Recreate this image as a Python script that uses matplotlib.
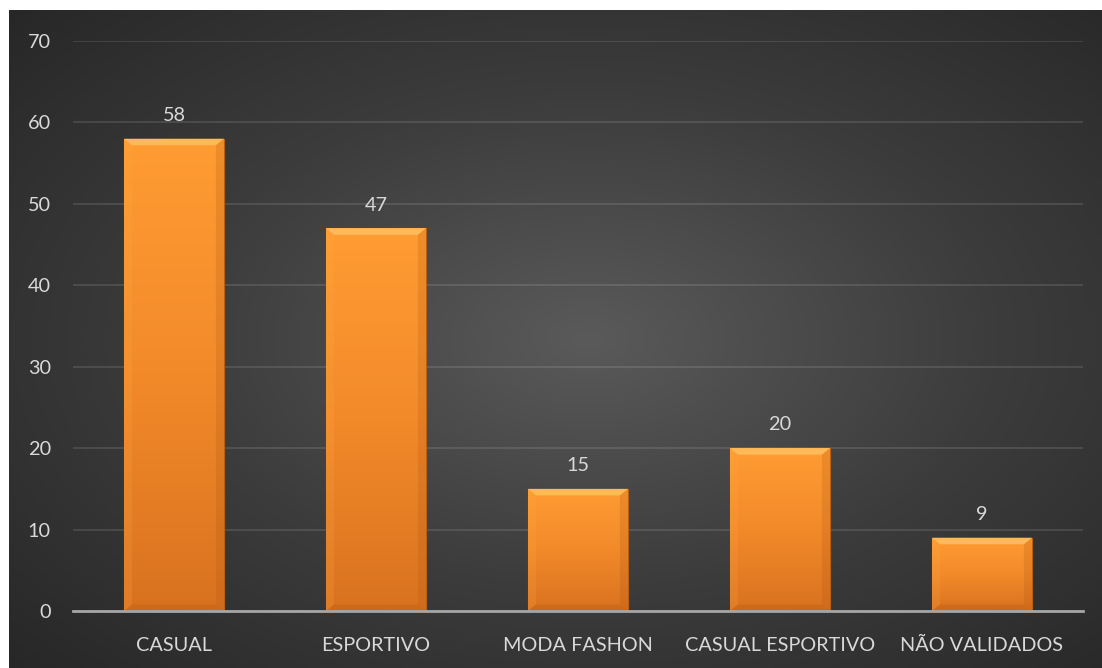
import numpy as np
import matplotlib.pyplot as plt
from matplotlib.colors import LinearSegmentedColormap
from matplotlib.patches import Polygon

# Dados
categorias = ['CASUAL', 'ESPORTIVO', 'MODA FASHON', 'CASUAL ESPORTIVO', 'NÃO VALIDADOS']
valores = [58, 47, 15, 20, 9]
yticks = [0, 10, 20, 30, 40, 50, 60, 70]

plt.rcParams['font.family'] = ['Lato', 'DejaVu Sans']
txt = '#d9d9d9'

fig = plt.figure(figsize=(11.02, 6.68), dpi=100)
fig.patch.set_facecolor('white')

# fundo com gradiente radial
bg = fig.add_axes([9 / 1102, 0, 1 - 9 / 1102, 1 - 10 / 668])
yy, xx = np.mgrid[0:1:300j, 0:1:500j]
r = np.sqrt(((xx - 0.53) / 0.75) ** 2 + ((yy - 0.5) / 0.75) ** 2)
bg_cmap = LinearSegmentedColormap.from_list('bg', ['#5a5a5a', '#3c3c3c', '#262626'])
bg.imshow(np.clip(r, 0, 1), cmap=bg_cmap, aspect='auto', extent=[0, 1, 0, 1], vmin=0, vmax=1)
bg.axis('off')

ax = fig.add_axes([73 / 1102, 1 - 611 / 668, 1010 / 1102, 570 / 668])
ax.patch.set_alpha(0)

x = np.arange(len(categorias))
bars = ax.bar(x, valores, width=0.495, color='#f28a28', edgecolor='#b85f10', linewidth=0.8, zorder=3)

bar_cmap = LinearSegmentedColormap.from_list('bar', ['#d9721f', '#f28a2a', '#ff9c32'])
grad = np.linspace(0, 1, 256).reshape(-1, 1)
for b, v in zip(bars, valores):
    x0 = b.get_x()
    w = b.get_width()
    im = ax.imshow(grad, cmap=bar_cmap, aspect='auto', origin='lower',
                   extent=[x0, x0 + w, 0, v], zorder=3.5)
    im.set_clip_path(b)
    # chanfro
    dx = 0.04
    dy = 0.8
    top = Polygon([[x0, v], [x0 + w, v], [x0 + w - dx, v - dy], [x0 + dx, v - dy]],
                  closed=True, facecolor='#ffc060', edgecolor='none', alpha=0.85, zorder=4)
    ax.add_patch(top)
    left = Polygon([[x0, v], [x0 + dx, v - dy], [x0 + dx, dy], [x0, 0]],
                   closed=True, facecolor='#ffae4a', edgecolor='none', alpha=0.18, zorder=4)
    ax.add_patch(left)
    right = Polygon([[x0 + w, v], [x0 + w - dx, v - dy], [x0 + w - dx, dy], [x0 + w, 0]],
                    closed=True, facecolor='#a85010', edgecolor='none', alpha=0.2, zorder=4)
    ax.add_patch(right)
    bot = Polygon([[x0, 0], [x0 + w, 0], [x0 + w - dx, dy], [x0 + dx, dy]],
                  closed=True, facecolor='#b05810', edgecolor='none', alpha=0.3, zorder=4)
    ax.add_patch(bot)
    ax.text(b.get_x() + w / 2, v + 1.8, str(v), ha='center', va='bottom',
            color=txt, fontsize=14.3)

ax.set_xlim(-0.5, len(categorias) - 0.5)
ax.set_ylim(0, 70)
ax.set_yticks(yticks)
ax.set_xticks(x)
ax.set_xticklabels(categorias)
ax.tick_params(axis='both', length=0, colors=txt, labelsize=14.3)
ax.tick_params(axis='y', pad=16)
ax.tick_params(axis='x', pad=19)
for lab in ax.get_yticklabels():
    lab.set_horizontalalignment('right')
ax.yaxis.grid(True, color='white', alpha=0.13, linewidth=1.2, zorder=0)
ax.set_axisbelow(True)
for s in ['top', 'right', 'left']:
    ax.spines[s].set_visible(False)
ax.spines['bottom'].set_color('#a6a6a6')
ax.spines['bottom'].set_linewidth(2)
ax.spines['bottom'].set_zorder(5)

fig.savefig('out.png', dpi=100)
